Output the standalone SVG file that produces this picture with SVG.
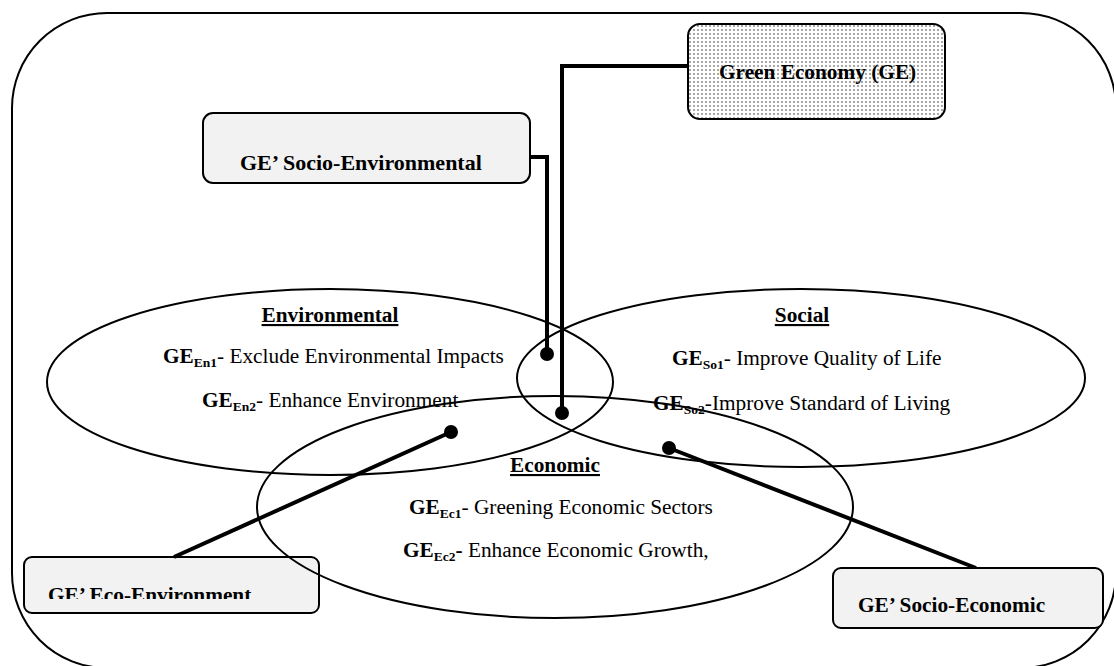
<svg xmlns="http://www.w3.org/2000/svg" width="1114" height="666" viewBox="0 0 1114 666">
<defs>
<pattern id="dots" width="4" height="4" patternUnits="userSpaceOnUse">
<rect width="4" height="4" fill="#ffffff"/>
<rect x="1" y="1" width="2" height="2" fill="#a8a8a8"/>
</pattern>
<clipPath id="clipEco"><rect x="24" y="557" width="295" height="42"/></clipPath>
<style>
.ell{fill:none;stroke:#000;stroke-width:2}
.box{fill:#f2f2f2;stroke:#000;stroke-width:2}
.t{font-family:"Liberation Serif","Times New Roman",serif;font-size:21.3px;fill:#000}
.b{font-weight:bold}
.h{font-weight:bold;text-decoration:underline}
.sub{font-size:13.5px;font-weight:bold}
.con{fill:none;stroke:#000;stroke-width:4}
.dot{fill:#000}
</style>
</defs>
<rect x="12" y="13" width="1104" height="655" rx="95" ry="95" fill="none" stroke="#000" stroke-width="2"/>
<g id="eco-environment">
<rect class="box" x="24" y="557" width="295" height="56" rx="8"/>
<text class="t b" x="48" y="602" clip-path="url(#clipEco)">GE’ Eco-Environment</text>
</g>
<g id="environmental">
<ellipse class="ell" cx="330" cy="382" rx="283" ry="93"/>
<text class="t h" x="330" y="322" text-anchor="middle">Environmental</text>
<text class="t" x="163" y="363"><tspan class="b">GE</tspan><tspan class="sub" dy="4">En1</tspan><tspan dy="-4">- Exclude Environmental Impacts</tspan></text>
<text class="t" x="202" y="407"><tspan class="b">GE</tspan><tspan class="sub" dy="4">En2</tspan><tspan dy="-4">- Enhance Environment</tspan></text>
</g>
<g id="social">
<ellipse class="ell" cx="801" cy="378" rx="284" ry="89"/>
<text class="t h" x="802" y="322" text-anchor="middle">Social</text>
<text class="t" x="672" y="365"><tspan class="b">GE</tspan><tspan class="sub" dy="4">So1</tspan><tspan dy="-4">- Improve Quality of Life</tspan></text>
<text class="t" x="653" y="410"><tspan class="b">GE</tspan><tspan class="sub" dy="4">So2</tspan><tspan dy="-4">-Improve Standard of Living</tspan></text>
</g>
<g id="economic">
<ellipse class="ell" cx="555" cy="507" rx="298" ry="111"/>
<text class="t h" x="555" y="472" text-anchor="middle">Economic</text>
<text class="t" x="409" y="514"><tspan class="b">GE</tspan><tspan class="sub" dy="4">Ec1</tspan><tspan dy="-4">- Greening Economic Sectors</tspan></text>
<text class="t" x="403" y="557"><tspan class="b">GE</tspan><tspan class="sub" dy="4">Ec2</tspan><tspan class="b" dy="-4">-</tspan><tspan> Enhance Economic Growth,</tspan></text>
</g>
<g id="connectors">
<path class="con" d="M688,66 H562 V413"/>
<circle class="dot" cx="562" cy="413" r="7"/>
<path class="con" d="M530,157 H547 V354"/>
<circle class="dot" cx="547" cy="354" r="7"/>
<path class="con" d="M174,557 L451,432"/>
<circle class="dot" cx="451" cy="432" r="7"/>
<path class="con" d="M976,568 L669,448"/>
<circle class="dot" cx="669" cy="448" r="7"/>
</g>
<g id="green-economy">
<rect x="688" y="24" width="257" height="95" rx="12" fill="url(#dots)" stroke="#000" stroke-width="2"/>
<text class="t b" x="719" y="79">Green Economy (GE)</text>
</g>
<g id="socio-environmental">
<rect class="box" x="203" y="113" width="327" height="70" rx="10"/>
<text class="t b" x="240" y="170" style="font-size:22px">GE’ Socio-Environmental</text>
</g>
<g id="socio-economic">
<rect class="box" x="833" y="568" width="270" height="60" rx="8"/>
<text class="t b" x="858" y="612">GE’ Socio-Economic</text>
</g>
</svg>
